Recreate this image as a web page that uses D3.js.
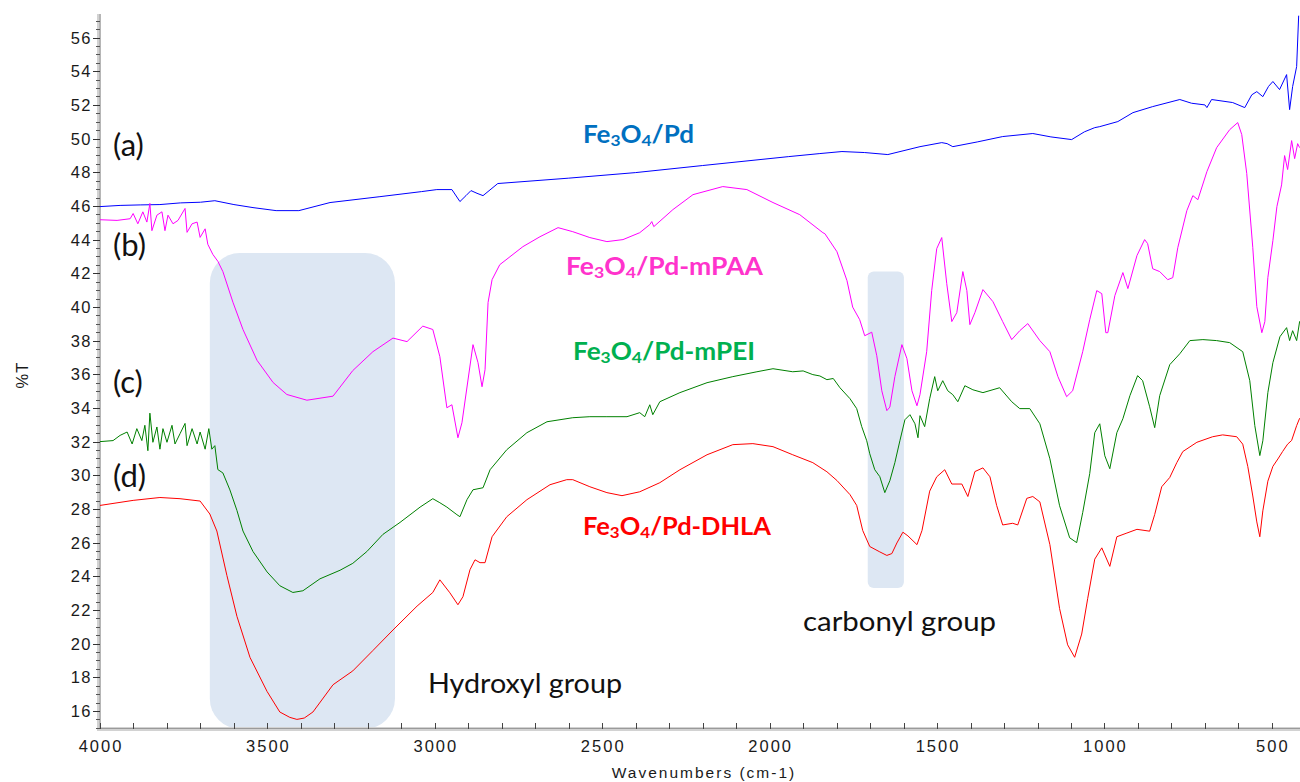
<!DOCTYPE html>
<html><head><meta charset="utf-8">
<script src="https://cdn.jsdelivr.net/npm/d3@7/dist/d3.min.js"></script>
<style>body{margin:0;background:#fff}svg{display:block}</style>
</head><body>
<svg id="chart" width="1300" height="782"></svg>
<script>
// ---- data: [wavenumber (cm-1), %T] ----
const seriesA = [[4000,45.96],[3940,46.03],[3880,46.06],[3821,46.08],[3760,46.18],[3700,46.22],[3657,46.31],[3600,46.08],[3543,45.90],[3474,45.72],[3406,45.72],[3313,46.20],[3164,46.55],[3040,46.85],[2994,46.97],[2949,46.97],[2925,46.26],[2907,46.61],[2892,46.91],[2874,46.75],[2856,46.61],[2812,47.33],[2600,47.65],[2400,47.98],[2200,48.40],[1943,48.93],[1850,49.11],[1784,49.23],[1716,49.17],[1647,49.05],[1551,49.52],[1486,49.76],[1470,49.70],[1453,49.52],[1380,49.80],[1304,50.12],[1214,50.30],[1160,50.10],[1098,49.94],[1060,50.40],[1029,50.65],[1014,50.71],[960,51.01],[915,51.54],[856,51.90],[775,52.32],[740,52.10],[700,52.00],[694,51.84],[680,52.32],[617,52.14],[581,51.84],[560,52.60],[545,52.79],[527,52.49],[510,53.10],[497,53.39],[477,52.91],[456,53.80],[447,51.72],[438,53.09],[426,54.28],[420,57.30]];
const seriesB = [[4000,45.18],[3949,45.14],[3910,45.24],[3901,45.55],[3887,44.94],[3872,45.65],[3860,45.04],[3851,46.15],[3845,44.53],[3830,45.45],[3815,45.65],[3806,44.53],[3797,45.45],[3782,44.94],[3767,45.14],[3746,45.85],[3740,44.43],[3725,44.94],[3710,45.04],[3701,44.13],[3686,44.64],[3678,43.72],[3663,43.12],[3648,42.71],[3633,42.10],[3603,40.28],[3573,38.66],[3531,36.83],[3483,35.51],[3442,34.80],[3382,34.46],[3304,34.70],[3245,36.22],[3185,37.34],[3125,38.15],[3083,37.94],[3036,38.86],[3006,38.66],[2985,37.05],[2964,34.01],[2949,34.19],[2931,32.23],[2919,33.12],[2886,37.76],[2871,36.69],[2859,35.26],[2850,36.27],[2841,40.26],[2829,41.62],[2806,42.51],[2737,43.58],[2686,44.17],[2632,44.71],[2588,44.47],[2537,44.12],[2486,43.88],[2438,44.00],[2388,44.41],[2358,44.89],[2352,45.07],[2346,44.77],[2289,45.78],[2229,46.67],[2140,47.15],[2068,46.97],[1990,46.20],[1910,45.48],[1841,44.41],[1835,44.35],[1799,43.28],[1769,41.56],[1752,39.99],[1731,39.24],[1716,38.29],[1695,38.50],[1680,37.10],[1665,35.02],[1650,33.84],[1641,34.05],[1626,35.86],[1605,37.76],[1590,36.93],[1575,35.02],[1560,34.13],[1551,34.79],[1531,37.34],[1516,40.97],[1501,43.46],[1486,44.12],[1471,41.38],[1456,39.13],[1441,39.66],[1423,42.10],[1411,40.97],[1402,38.95],[1387,39.66],[1363,41.03],[1333,40.31],[1304,39.13],[1277,38.06],[1253,38.59],[1229,39.01],[1193,38.00],[1163,37.34],[1139,35.86],[1113,34.67],[1095,35.02],[1065,37.34],[1044,39.24],[1023,40.97],[1008,40.79],[996,38.47],[990,38.47],[969,40.67],[945,42.04],[930,41.09],[903,43.05],[880,44.00],[871,43.76],[856,42.27],[835,42.10],[811,41.62],[796,41.74],[781,43.52],[754,45.72],[736,46.61],[721,46.37],[694,48.04],[665,49.46],[626,50.53],[602,50.95],[590,50.24],[575,47.92],[557,43.52],[545,40.02],[530,38.47],[521,39.13],[512,41.74],[497,43.94],[485,45.96],[471,47.25],[462,48.99],[453,48.16],[441,49.88],[432,48.81],[423,49.70],[417,49.46]];
const seriesC = [[4000,32.00],[3961,32.06],[3940,32.37],[3919,32.57],[3904,31.86],[3890,32.77],[3875,32.06],[3866,32.97],[3857,31.46],[3851,33.69],[3842,31.96],[3830,32.87],[3821,31.55],[3812,32.77],[3800,31.96],[3785,32.97],[3776,31.86],[3761,32.47],[3746,33.08],[3740,31.76],[3725,32.77],[3710,31.86],[3701,32.57],[3686,31.55],[3675,32.77],[3666,31.55],[3657,31.76],[3648,30.34],[3633,30.14],[3612,29.13],[3591,27.91],[3573,26.69],[3543,25.47],[3501,24.26],[3463,23.44],[3424,23.04],[3394,23.14],[3343,23.85],[3283,24.36],[3245,24.77],[3203,25.47],[3155,26.49],[3104,27.20],[3044,28.11],[3006,28.61],[2985,28.37],[2964,28.11],[2934,27.66],[2925,27.54],[2904,28.55],[2886,29.14],[2856,29.26],[2835,30.33],[2785,31.52],[2725,32.53],[2665,33.18],[2588,33.42],[2537,33.48],[2486,33.48],[2426,33.48],[2388,33.72],[2373,33.48],[2358,34.19],[2349,33.60],[2328,34.37],[2268,34.91],[2187,35.50],[2110,35.86],[2038,36.15],[1990,36.33],[1931,36.15],[1900,36.20],[1871,35.98],[1850,35.90],[1829,35.68],[1810,35.75],[1790,35.20],[1760,34.55],[1740,33.96],[1725,32.89],[1710,32.05],[1701,31.28],[1686,30.33],[1671,29.92],[1656,28.97],[1641,29.68],[1626,30.75],[1611,32.05],[1596,33.30],[1581,33.60],[1566,33.06],[1557,32.23],[1551,33.54],[1537,32.89],[1522,34.55],[1507,35.86],[1498,35.02],[1483,35.62],[1468,35.02],[1453,34.79],[1438,34.37],[1417,35.32],[1393,35.08],[1363,34.91],[1313,35.20],[1277,34.37],[1253,33.96],[1223,33.96],[1193,33.06],[1163,30.98],[1134,28.19],[1104,26.29],[1083,26.00],[1065,27.78],[1044,30.10],[1029,32.53],[1014,33.06],[999,31.16],[984,30.39],[963,32.53],[945,33.36],[924,34.73],[901,35.92],[886,35.62],[865,34.07],[850,32.83],[835,34.73],[805,36.57],[775,37.22],[745,38.00],[706,38.06],[665,38.00],[626,37.88],[587,37.34],[566,35.62],[551,32.95],[536,31.17],[527,32.05],[512,34.91],[497,36.69],[476,38.23],[456,38.77],[447,38.00],[438,38.59],[426,38.00],[417,39.15]];
const seriesD = [[4000,28.21],[3901,28.51],[3821,28.68],[3761,28.61],[3701,28.47],[3672,27.70],[3651,26.69],[3621,24.05],[3591,21.62],[3552,19.18],[3501,17.16],[3463,15.94],[3433,15.62],[3412,15.50],[3390,15.58],[3364,15.94],[3304,17.56],[3245,18.38],[3185,19.59],[3125,20.81],[3053,22.23],[3006,23.04],[2985,23.79],[2955,23.02],[2931,22.31],[2916,22.79],[2895,24.39],[2880,24.98],[2865,24.81],[2850,24.81],[2829,26.35],[2785,27.54],[2725,28.55],[2656,29.44],[2606,29.74],[2588,29.74],[2537,29.32],[2486,28.97],[2441,28.79],[2388,29.02],[2328,29.56],[2268,30.33],[2187,31.22],[2110,31.82],[2050,31.88],[1990,31.70],[1931,31.22],[1871,30.75],[1829,30.21],[1799,29.69],[1760,28.85],[1740,28.21],[1722,26.72],[1701,25.77],[1671,25.45],[1650,25.24],[1635,25.35],[1620,25.98],[1602,26.62],[1587,26.40],[1560,25.88],[1545,26.72],[1522,29.06],[1501,29.91],[1477,30.33],[1456,29.48],[1426,29.48],[1408,28.74],[1387,30.22],[1363,30.44],[1342,29.91],[1322,28.21],[1304,27.05],[1274,27.15],[1259,27.05],[1232,28.63],[1214,28.74],[1193,28.42],[1163,25.88],[1134,22.08],[1110,19.93],[1089,19.19],[1068,20.57],[1050,22.69],[1029,25.02],[1008,25.69],[984,24.59],[963,26.35],[933,26.57],[903,26.79],[865,26.68],[850,27.67],[829,29.32],[805,29.87],[784,30.75],[766,31.41],[724,31.96],[677,32.29],[647,32.40],[605,32.29],[587,31.85],[572,30.53],[557,28.77],[545,27.23],[536,26.35],[527,27.89],[512,29.65],[497,30.53],[482,30.97],[468,31.41],[453,31.85],[441,32.07],[426,32.95],[417,33.39]];

const seriesNames = ["Fe3O4/Pd","Fe3O4/Pd-mPAA","Fe3O4/Pd-mPEI","Fe3O4/Pd-DHLA"];
const seriesColors = ["#0000ff","#ff00ff","#008000","#ff0000"];
const xTickValues = [4000,3500,3000,2500,2000,1500,1000,500];
const yTickValues = [16,18,20,22,24,26,28,30,32,34,36,38,40,42,44,46,48,50,52,54,56];
// highlighted bands: [wn from, wn to, %T top, %T bottom]
const hydroxylBand = [3672,3119,43.2,14.95];
const carbonylBand = [1707,1599,42.1,23.3];

// ---- layout ----
const svg = d3.select("#chart");
const x = d3.scaleLinear().domain([4000,416]).range([100,1300]);
const y = d3.scaleLinear().domain([14.93,57.4]).range([729,14]);

// bands
function band(b, r){
  svg.append("rect")
    .attr("x", x(b[0])).attr("y", y(b[2]))
    .attr("width", x(b[1]) - x(b[0])).attr("height", y(b[3]) - y(b[2]))
    .attr("rx", r).attr("ry", r)
    .attr("fill", "#dde7f3");
}
band(hydroxylBand, 30);
band(carbonylBand, 6);

// axes
const axG = svg.append("g");
axG.append("rect").attr("x", 97).attr("y", 14).attr("width", 4).attr("height", 717).attr("fill", "#d2d2d2");
axG.append("rect").attr("x", 97).attr("y", 727).attr("width", 1203).attr("height", 4).attr("fill", "#d2d2d2");
axG.append("line").attr("x1",100).attr("x2",100).attr("y1",14).attr("y2",729).attr("stroke","#9a9a9a").attr("stroke-width",1);
axG.append("line").attr("x1",100).attr("x2",1300).attr("y1",728.5).attr("y2",728.5).attr("stroke","#9a9a9a").attr("stroke-width",1);

const yMinor = d3.range(15, 57.4, 0.5).filter(v => Math.abs(v % 2) > 1e-6);
axG.selectAll(".ymin").data(yMinor).join("line")
  .attr("x1", 96).attr("x2", 100).attr("y1", d => Math.round(y(d))+0.5).attr("y2", d => Math.round(y(d))+0.5)
  .attr("stroke", "#555").attr("stroke-width", 1);
axG.selectAll(".ymaj").data(yTickValues).join("line")
  .attr("x1", 93).attr("x2", 100).attr("y1", d => Math.round(y(d))+0.5).attr("y2", d => Math.round(y(d))+0.5)
  .attr("stroke", "#333").attr("stroke-width", 1);
axG.selectAll(".ylab").data(yTickValues).join("text")
  .attr("x", 92).attr("y", d => y(d)).attr("dy", "0.36em")
  .attr("text-anchor", "end")
  .style("font-family", "'Liberation Sans', Arial, sans-serif").style("font-size", "16.5px")
  .style("letter-spacing", "1.5px").attr("fill", "#1a1a1a")
  .text(d => d);

const xMinor = d3.range(500, 4001, 100);
axG.selectAll(".xmin").data(xMinor).join("line")
  .attr("x1", d => Math.round(x(d))+0.5).attr("x2", d => Math.round(x(d))+0.5)
  .attr("y1", 723).attr("y2", 729)
  .attr("stroke", "#444").attr("stroke-width", 1);
axG.selectAll(".xlab").data(xTickValues).join("text")
  .attr("x", d => x(d) + 1).attr("y", 752)
  .attr("text-anchor", "middle")
  .style("font-family", "'Liberation Sans', Arial, sans-serif").style("font-size", "16.5px")
  .style("letter-spacing", "2px").attr("fill", "#1a1a1a")
  .text(d => d);

svg.append("text").attr("x", 704).attr("y", 778).attr("text-anchor", "middle")
  .style("font-family", "'Liberation Sans', Arial, sans-serif").style("font-size", "15.5px")
  .style("letter-spacing", "2px").attr("fill", "#1a1a1a")
  .text("Wavenumbers (cm-1)");
svg.append("text").attr("transform", "translate(28,375) rotate(-90)").attr("text-anchor", "middle")
  .style("font-family", "'Liberation Sans', Arial, sans-serif").style("font-size", "16.5px")
  .style("letter-spacing", "1px").attr("fill", "#1a1a1a")
  .text("%T");

// curves
const line = d3.line().x(d => x(d[0])).y(d => y(d[1]));
[seriesA, seriesB, seriesC, seriesD].forEach((s, i) => {
  svg.append("path").datum(s).attr("d", line)
    .attr("fill", "none").attr("stroke", seriesColors[i]).attr("stroke-width", 1)
    .attr("stroke-linejoin", "round");
});

// annotations
const ann = svg.append("g").style("font-family", "Lato, 'Open Sans', sans-serif");
[["(a)",156],["(b)",256],["(c)",393],["(d)",487]].forEach(([t, by]) => {
  ann.append("text").attr("x", 113).attr("y", by).style("font-size", "31px").attr("fill", "#111").text(t);
});
const nameColors = ["#0070c0","#ff33cc","#00b050","#ff0000"];
const namePos = [[583,143,111],[566,275,197],[573,360,182],[583,535,188]];
seriesNames.forEach((n, i) => {
  const [px, py, len] = namePos[i];
  const t = ann.append("text").attr("x", px).attr("y", py)
    .style("font-size", "24px").style("font-weight", "bold").attr("fill", nameColors[i])
    .attr("textLength", len).attr("lengthAdjust", "spacingAndGlyphs");
  const rest = n.slice(5);
  t.append("tspan").text("Fe");
  t.append("tspan").attr("font-size", "16px").attr("dy", 3).text("3");
  t.append("tspan").attr("dy", -3).text("O");
  t.append("tspan").attr("font-size", "16px").attr("dy", 3).text("4");
  t.append("tspan").attr("dy", -3).text(rest);
});
ann.append("text").attr("x", 428).attr("y", 693).style("font-size", "26px").attr("fill", "#111")
  .attr("textLength", 194).attr("lengthAdjust", "spacingAndGlyphs").text("Hydroxyl group");
ann.append("text").attr("x", 803).attr("y", 631).style("font-size", "26px").attr("fill", "#111")
  .attr("textLength", 193).attr("lengthAdjust", "spacingAndGlyphs").text("carbonyl group");
</script>
</body></html>
